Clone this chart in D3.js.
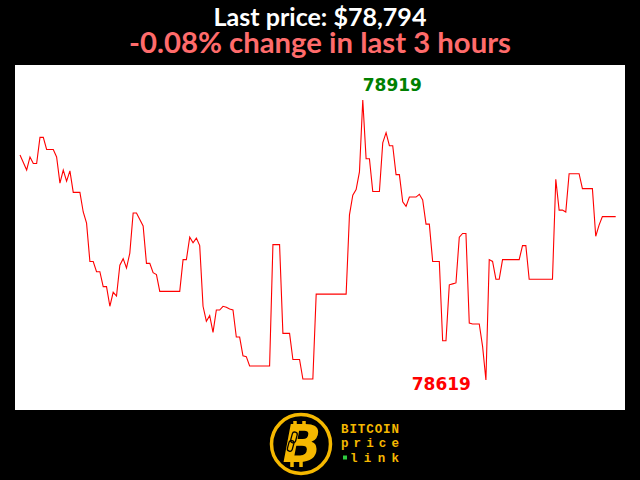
<!DOCTYPE html>
<html>
<head>
<meta charset="utf-8">
<script src="https://cdn.jsdelivr.net/npm/d3@7"></script>
<style>
html,body{margin:0;padding:0;background:#000;}
svg{display:block;}
</style>
</head>
<body>
<svg id="chart" width="640" height="480"></svg>
<script>
// ---- data ----
const titleText = "Last price: $78,794";
const subtitleText = "-0.08% change in last 3 hours";
const logoWords = ["BITCOIN", "price", "link"];
const prices = [
  78860,78852,78844,78858,78851,78851,78879,78879,78866,78866,
  78866,78858,78830,78844,78832,78843,78820,78820,78820,78799,
  78787,78746,78746,78735,78735,78719,78719,78698,78713,78709,
  78742,78749,78739,78755,78798,78798,78791,78784,78744,78744,
  78734,78732,78714,78714,78714,78714,78714,78714,78714,78748,
  78748,78772,78766,78771,78763,78698,78682,78688,78670,78694,
  78694,78698,78697,78695,78694,78665,78665,78645,78644,78634,
  78634,78634,78634,78634,78634,78634,78764,78764,78764,78669,
  78669,78669,78641,78641,78641,78620,78620,78620,78620,78711,
  78711,78711,78711,78711,78711,78711,78711,78711,78711,78796,
  78817,78823,78842,78919,78856,78856,78821,78821,78821,78873,
  78884,78870,78870,78839,78839,78810,78805,78815,78815,78815,
  78818,78812,78786,78786,78746,78746,78746,78661,78661,78721,
  78722,78723,78772,78776,78776,78680,78679,78679,78679,78655,
  78619,78748,78746,78727,78727,78748,78748,78748,78748,78748,
  78748,78763,78763,78727,78727,78727,78727,78727,78727,78727,
  78727,78834,78801,78801,78799,78840,78840,78840,78840,78824,
  78824,78824,78824,78773,78785,78794,78794,78794,78794,78794
];

// ---- layout ----
const W = 640, H = 480;
const plot = {left: 15, right: 625, top: 65, bottom: 410};
const svg = d3.select("#chart");

svg.append("rect").attr("x",0).attr("y",0).attr("width",W).attr("height",H).attr("fill","#000");

function fitText(sel, targetWidth, startSize) {
  let size = startSize;
  sel.attr("font-size", size);
  const w = sel.node().getComputedTextLength();
  if (w > 0) { size = size * targetWidth / w; sel.attr("font-size", size); }
}

const title = svg.append("text")
  .attr("x", W/2).attr("y", 26)
  .attr("text-anchor","middle")
  .attr("font-family","Lato, 'Open Sans', sans-serif")
  .attr("font-weight","bold")
  .attr("fill","#ffffff")
  .text(titleText);
fitText(title, 213, 24);

const subtitle = svg.append("text")
  .attr("x", W/2).attr("y", 53)
  .attr("text-anchor","middle")
  .attr("font-family","Lato, 'Open Sans', sans-serif")
  .attr("font-weight","bold")
  .attr("fill","#ff6b6b")
  .text(subtitleText);
fitText(subtitle, 382, 28);

// plot background
svg.append("rect")
  .attr("x", plot.left).attr("y", plot.top)
  .attr("width", plot.right - plot.left).attr("height", plot.bottom - plot.top)
  .attr("fill", "#ffffff");

const minV = d3.min(prices), maxV = d3.max(prices);
const x = d3.scaleLinear().domain([0, prices.length - 1]).range([plot.left + 5, plot.right - 9.3]);
const y = d3.scaleLinear().domain([minV, maxV]).range([plot.bottom - 30, plot.top + 35]);

const line = d3.line().x((d,i) => x(i)).y(d => y(d));
svg.append("path")
  .datum(prices)
  .attr("d", line)
  .attr("fill","none")
  .attr("stroke","#ff0000")
  .attr("stroke-width",1.1)
  .attr("stroke-linejoin","miter");

const iMax = prices.indexOf(maxV), iMin = prices.indexOf(minV);
svg.append("text")
  .attr("x", x(iMax)).attr("y", y(maxV) - 9)
  .attr("text-anchor","start")
  .attr("font-family","'DejaVu Sans', sans-serif")
  .attr("font-weight","bold")
  .attr("font-size",17)
  .attr("fill","#008000")
  .text(String(maxV));
svg.append("text")
  .attr("x", x(iMin) - 15).attr("y", y(minV) + 10)
  .attr("text-anchor","end")
  .attr("font-family","'DejaVu Sans', sans-serif")
  .attr("font-weight","bold")
  .attr("font-size",17)
  .attr("fill","#ff0000")
  .text(String(minV));

// ---- logo ----
const gold = "#f5b800";
const logo = svg.append("g").attr("transform","translate(301,444)");
logo.append("circle").attr("r",29.5).attr("fill","#000").attr("stroke",gold).attr("stroke-width",3.5);
// bitcoin ticks
[[-6,-23,-6,-16],[3,-23,3,-16],[-9,16,-9,23],[0,16,0,23]].forEach(p=>{
  logo.append("line").attr("x1",p[0]).attr("y1",p[1]).attr("x2",p[2]).attr("y2",p[3])
    .attr("stroke",gold).attr("stroke-width",3.5);
});
logo.append("text")
  .attr("x",1).attr("y",18)
  .attr("text-anchor","middle")
  .attr("font-family","'DejaVu Sans', sans-serif")
  .attr("font-weight","bold")
  .attr("font-style","italic")
  .attr("font-size",51)
  .attr("fill",gold)
  .text("B");
// chain link
logo.append("rect").attr("x",-11).attr("y",-10).attr("width",5).attr("height",11).attr("rx",2.5)
  .attr("fill","none").attr("stroke","#000").attr("stroke-width",1.3).attr("transform","rotate(15)");
logo.append("rect").attr("x",-12).attr("y",-1).attr("width",5).attr("height",11).attr("rx",2.5)
  .attr("fill","none").attr("stroke","#000").attr("stroke-width",1.3).attr("transform","rotate(15)");

const lw = svg.append("g");
const rows = [432.5, 447, 461.5];
logoWords.forEach((w,i)=>{
  lw.append("text")
    .attr("x", i === 2 ? 350 : 341).attr("y", rows[i])
    .attr("font-family","'Liberation Mono', 'DejaVu Sans Mono', monospace")
    .attr("font-weight","bold")
    .attr("font-size",12.5)
    .attr("fill",gold)
    .attr("textLength", i === 2 ? 49 : 58)
    .attr("lengthAdjust","spacing")
    .text(w);
});
lw.append("rect").attr("x",343).attr("y",455.5).attr("width",4).attr("height",4).attr("fill","#2ecc40");
</script>
</body>
</html>
